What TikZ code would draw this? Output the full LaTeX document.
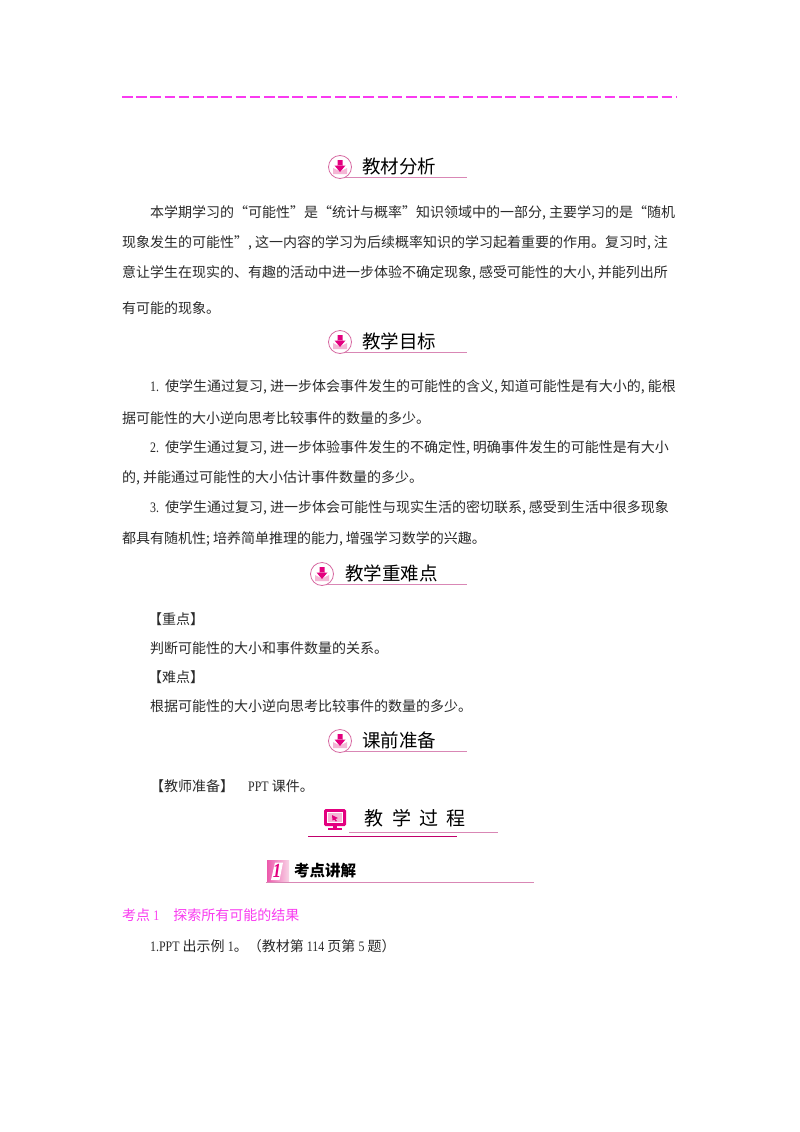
\documentclass[tikz,border=0pt]{standalone}
\usepackage{fontspec}
\setmainfont{Noto Sans CJK SC}
\newfontfamily\latinf[FakeStretch=0.82]{Liberation Serif}
\XeTeXlinebreaklocale "zh"
\XeTeXlinebreakskip=0pt plus 4pt minus 1pt
\definecolor{dashpink}{HTML}{F93BF0}
\definecolor{rulepink}{HTML}{D987B5}
\definecolor{deeppink}{HTML}{E3007F}
\definecolor{softpink}{HTML}{F4B6D5}
\definecolor{ringpink}{HTML}{D76AA2}
\definecolor{bodygray}{HTML}{2A2A2A}
\newcommand{\lat}[1]{{\latinf\fontsize{14.5}{14.5}\selectfont #1}}
\newcommand{\cm}{,\hspace{3pt}}
\tikzset{
  bodyline/.style={anchor=west,inner sep=0pt,text=bodygray,font=\fontsize{14}{14}\selectfont},
  headtext/.style={anchor=west,inner sep=0pt,text=black,font=\fontsize{18.5}{19}\selectfont},
  headrule/.style={draw=rulepink,line width=1.2pt},
  ring/.style={circle,draw=ringpink,fill=white,line width=.8pt,minimum size=23pt,inner sep=0pt},
}
\newcommand{\jline}[5]{\node[bodyline] (#1) at (#2,#3) {\makebox[#4pt][s]{#5}};}
\newcommand{\pline}[4]{\node[bodyline] (#1) at (#2,#3) {#4};}
\newcommand{\headbar}[6]{%
  \coordinate (#1r) at (467,#3+10.5);
  \coordinate (#1l) at (#2+4,#3+10.5);
  \draw[headrule] (#1l) -- (#1r);
  \node[ring] (#1c) at (#2,#3) {};
  \fill[softpink] (#2-7,#3+1) -- (#2-2,#3+3.5) -- (#2+2,#3+3.5) -- (#2+7,#3+1) -- (#2+7,#3+7) -- (#2-7,#3+7) -- cycle;
  \fill[deeppink] (#2-2.5,#3-7) rectangle (#2+2.5,#3-1) (#2-5.5,#3-1.5) -- (#2+5.5,#3-1.5) -- (#2,#3+5) -- cycle;
  \node[headtext] (#1t) at (#4,#3-1) {\makebox[#6pt][s]{#5}};
}
\begin{document}
\begin{tikzpicture}[x=1pt,y=-1pt]
\useasboundingbox (0,0) rectangle (800,1132);
\fill[white] (0,0) rectangle (800,1132);
\coordinate (dashA) at (122,97);
\coordinate (dashB) at (677,97);
\draw[draw=dashpink,line width=1.3pt,dash pattern=on 10.5pt off 3.7pt] (dashA) -- (dashB);

\headbar{hA}{340}{167}{362}{教材分析}{74}
\jline{a1}{150}{213}{528}{本学期学习的“可能性”是“统计与概率”知识领域中的一部分\cm 主要学习的是“随机}
\jline{a2}{122}{243}{556}{现象发生的可能性”\cm 这一内容的学习为后续概率知识的学习起着重要的作用。复习时\cm 注}
\jline{a3}{122}{273}{556}{意让学生在现实的、有趣的活动中进一步体验不确定现象\cm 感受可能性的大小\cm 并能列出所}
\pline{a4}{122}{308}{有可能的现象。}

\headbar{hB}{340}{342}{362}{教学目标}{74}
\jline{b1}{150}{387}{528}{\makebox[15pt][l]{\lat{1.}}使学生通过复习\cm 进一步体会事件发生的可能性的含义\cm 知道可能性是有大小的\cm 能根}
\pline{b2}{122}{418}{据可能性的大小逆向思考比较事件的数量的多少。}
\jline{b3}{150}{448}{528}{\makebox[15pt][l]{\lat{2.}}使学生通过复习\cm 进一步体验事件发生的不确定性\cm 明确事件发生的可能性是有大小}
\pline{b4}{122}{478}{的\cm 并能通过可能性的大小估计事件数量的多少。}
\jline{b5}{150}{508}{528}{\makebox[15pt][l]{\lat{3.}}使学生通过复习\cm 进一步体会可能性与现实生活的密切联系\cm 感受到生活中很多现象}
\pline{b6}{122}{539}{都具有随机性;\hspace{3pt}培养简单推理的能力\cm 增强学习数学的兴趣。}

\headbar{hC}{322}{574}{345}{教学重难点}{93}
\pline{c1}{148}{619}{【重点】}
\pline{c2}{150}{648}{判断可能性的大小和事件数量的关系。}
\pline{c3}{148}{677}{【难点】}
\pline{c4}{150}{706}{根据可能性的大小逆向思考比较事件的数量的多少。}

\headbar{hD}{340}{741}{362}{课前准备}{74}
\pline{d1}{150}{786}{【教师准备】\hspace{14pt}\lat{PPT} 课件。}

\coordinate (eA) at (349,832.5); \coordinate (eB) at (498,832.5);
\coordinate (fA) at (308,836.5); \coordinate (fB) at (457,836.5);
\draw[headrule] (eA) -- (eB);
\draw[deeppink!85!black,line width=1pt] (fA) -- (fB);
\fill[deeppink,rounded corners=1.5pt] (324,809) rectangle (346,826);
\fill[white] (327,812) rectangle (343,823);
\fill[softpink] (328,813) rectangle (342,822);
\fill[deeppink] (332,815) -- (338,818) -- (335.5,819) -- (337,821) -- (335.8,821.5) -- (334.4,819.8) -- (332.5,820.5) -- cycle;
\fill[deeppink] (333,826) rectangle (337,828);
\fill[deeppink] (328,828) rectangle (342,830);
\node[headtext,font=\fontsize{19}{19}\selectfont] (e) at (364.5,818) {\makebox[101pt][s]{教\hfill 学\hfill 过\hfill 程}};

\coordinate (gA) at (266,882.5); \coordinate (gB) at (534,882.5);
\draw[headrule] (gA) -- (gB);
\fill[left color=deeppink!65,right color=softpink!60] (267,860) rectangle (289,881.5);
\fill[white] (275,862.5) -- (283,862.5) -- (279.5,880) -- (271,880) -- cycle;
\node[inner sep=0pt,text=deeppink,font=\latinf\bfseries\itshape\fontsize{20}{20}\selectfont] (g1) at (277,871) {1};
\node[headtext,font=\bfseries\fontsize{15.5}{16}\selectfont] (g) at (294,871) {考点讲解};

\node[bodyline,text=dashpink] (h1) at (122,915) {考点 \lat{1}\hspace{14pt}探索所有可能的结果};
\pline{h2}{150}{946}{\lat{1.PPT} 出示例 \lat{1}。（教材第 \lat{114} 页第 \lat{5} 题）}
\end{tikzpicture}
\end{document}
